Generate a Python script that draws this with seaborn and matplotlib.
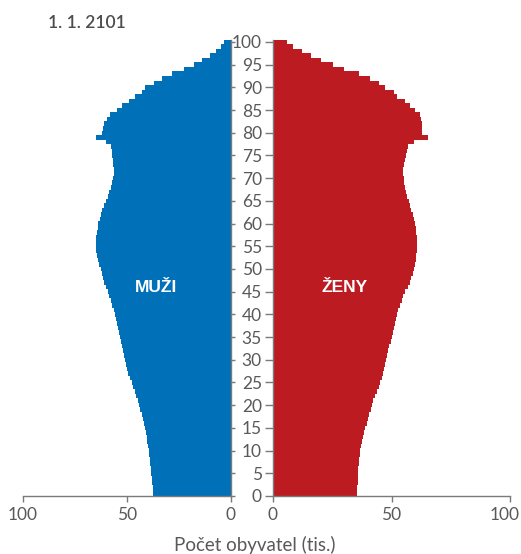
import matplotlib
matplotlib.use("Agg")
import matplotlib.pyplot as plt
import matplotlib.transforms as mtransforms
import pandas as pd
import seaborn as sns

# ---- data ----
ages = list(range(0, 101))
men = [37.1, 37.3, 37.5, 37.7, 37.9, 38.1, 38.3, 38.5, 38.8, 39.0,
       39.2, 39.6, 40.0, 40.4, 40.8, 41.1, 41.7, 42.2, 42.8, 43.4,
       43.9, 44.6, 45.3, 46.1, 46.8, 47.5, 48.3, 49.1, 49.8, 50.3,
       50.8, 51.2, 51.7, 52.0, 52.6, 53.2, 53.7, 54.1, 54.6, 55.1,
       55.6, 56.2, 56.8, 57.6, 58.4, 59.1, 59.9, 60.7, 61.4, 62.0,
       62.5, 63.1, 63.6, 64.2, 64.6, 64.9, 64.9, 64.7, 64.4, 64.0,
       63.6, 63.0, 62.4, 61.6, 60.8, 60.1, 59.0, 58.3, 57.5, 56.9,
       56.4, 56.2, 56.2, 56.4, 56.7, 56.9, 57.2, 57.5, 60.1, 64.7,
       61.7, 61.5, 61.0, 59.6, 58.0, 54.8, 52.2, 48.7, 46.0, 42.7,
       41.1, 36.8, 32.8, 28.0, 22.5, 17.6, 13.6, 9.9, 7.0, 4.6,
       3.0]
women = [35.4, 35.5, 35.6, 35.7, 35.8, 35.9, 36.0, 36.2, 36.4, 36.6,
         36.8, 37.1, 37.5, 38.0, 38.5, 39.0, 39.5, 40.1, 40.7, 41.2,
         41.7, 42.4, 43.2, 43.9, 44.6, 45.2, 45.8, 46.4, 46.9, 47.3,
         47.7, 48.1, 48.6, 49.0, 49.6, 50.3, 50.6, 51.0, 51.5, 51.9,
         52.3, 52.9, 53.5, 54.3, 55.0, 55.8, 57.0, 57.7, 58.4, 58.9,
         59.3, 59.8, 60.2, 60.5, 60.7, 60.8, 60.8, 60.7, 60.5, 60.2,
         60.0, 59.4, 58.9, 58.4, 57.7, 57.2, 56.6, 56.2, 55.8, 55.3,
         55.1, 54.8, 54.8, 55.1, 55.5, 56.1, 56.5, 57.0, 59.7, 65.2,
         62.9, 62.8, 62.8, 62.5, 62.0, 60.0, 57.6, 55.8, 52.5, 51.1,
         47.4, 44.9, 41.1, 36.3, 30.0, 25.2, 20.3, 16.2, 12.3, 8.6,
         5.8]
age_ticks = list(range(0, 101, 5))
x_ticks = [0, 50, 100]
title = "1. 1. 2101"
xlabel = "Počet obyvatel (tis.)"
label_men = "MUŽI"
label_women = "ŽENY"

BLUE = "#0071b9"
RED = "#bc1b21"
GRAY_TXT = "#595959"
GRAY_AX = "#7a7a7a"

sns.set_style("white")
plt.rcParams["font.family"] = ["Lato", "DejaVu Sans"]

df = pd.DataFrame({"age": ages, "men": men, "women": women})

fig = plt.figure(figsize=(5.21, 5.54), dpi=100)
W, H = 521, 554
bottom = 58 / H
height = 456.3 / H
axL = fig.add_axes([22.7 / W, bottom, (230.5 - 22.7) / W, height])
axR = fig.add_axes([273 / W, bottom, 237 / W, height])

sns.barplot(data=df, x="men", y="age", orient="h", native_scale=True,
            width=1, color=BLUE, saturation=1, linewidth=0,
            errorbar=None, ax=axL)
sns.barplot(data=df, x="women", y="age", orient="h", native_scale=True,
            width=1, color=RED, saturation=1, linewidth=0,
            errorbar=None, ax=axR)

for ax in (axL, axR):
    ax.set_ylim(0, 100.5)
    ax.set_xlabel("")
    ax.set_ylabel("")
    ax.set_xticks(x_ticks)
    ax.set_yticks(age_ticks)
    ax.spines["top"].set_visible(False)
    for s in ax.spines.values():
        s.set_color(GRAY_AX)
        s.set_linewidth(1.0)
    ax.tick_params(axis="x", direction="out", length=4, width=1,
                   color=GRAY_AX, labelcolor=GRAY_TXT, labelsize=12.5, pad=4,
                   bottom=True)
    ax.grid(False)

axL.set_xlim(100, 0)
axL.spines["left"].set_visible(False)
axL.yaxis.tick_right()
axL.tick_params(axis="y", direction="out", length=3, width=1,
                color=GRAY_AX, labelright=False, right=True, left=False)

axR.set_xlim(0, 100)
axR.spines["right"].set_visible(False)
axR.tick_params(axis="y", direction="out", length=6, width=1,
                color=GRAY_AX, labelcolor=GRAY_TXT, labelsize=12.5, pad=2,
                left=True, right=False)

# shift the last x tick label on the right panel left so it stays inside
fig.canvas.draw()
lbl = axR.get_xticklabels()[-1]
lbl.set_transform(lbl.get_transform() +
                  mtransforms.ScaledTranslation(-5 / 100, 0, fig.dpi_scale_trans))

axL.text(35.9, 46, label_men, color="white", fontsize=12.5,
         fontweight="bold", family=["Liberation Sans", "DejaVu Sans"],
         ha="center", va="center")
axR.text(30.4, 46, label_women, color="white", fontsize=12.5,
         fontweight="bold", family=["Liberation Sans", "DejaVu Sans"],
         ha="center", va="center")

fig.text(48 / W, 1 - 23 / H, title, color="#4d4d4d", fontsize=12.5,
         fontweight="semibold", ha="left", va="center")
fig.text(255 / W, 1 - 545 / H, xlabel, color=GRAY_TXT, fontsize=13.5,
         ha="center", va="center")

fig.savefig("out.png", dpi=100)
